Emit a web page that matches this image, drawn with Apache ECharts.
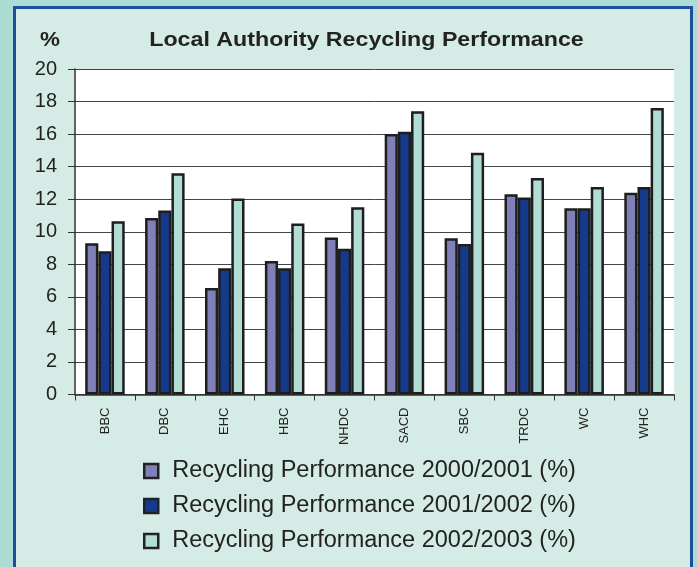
<!DOCTYPE html>
<html>
<head>
<meta charset="utf-8">
<script src="https://cdn.jsdelivr.net/npm/echarts@6/dist/echarts.min.js"></script>
<style>
html,body{margin:0;padding:0;background:#acdcd4;}
#c{width:697px;height:567px;}
</style>
</head>
<body>
<div id="c"></div>
<script>
const categories = ['BBC','DBC','EHC','HBC','NHDC','SACD','SBC','TRDC','WC','WHC'];
const seriesNames = ['Recycling Performance 2000/2001 (%)','Recycling Performance 2001/2002 (%)','Recycling Performance 2002/2003 (%)'];
const perf2000 = [9.3, 10.85, 6.55, 8.2, 9.65, 16.0, 9.6, 12.3, 11.45, 12.4];
const perf2001 = [8.8, 11.3, 7.75, 7.75, 8.95, 16.15, 9.25, 12.1, 11.45, 12.75];
const perf2002 = [10.65, 13.6, 12.05, 10.5, 11.5, 17.4, 14.85, 13.3, 12.75, 17.6];
const yTicks = {min: 0, max: 20, interval: 2};
const colors = ['#7f80b8', '#153a8b', '#b2ddd4'];
const titleText = 'Local Authority Recycling Performance';
const unitText = '%';
const FONT = 'Liberation Sans, Arial, sans-serif';

const chart = echarts.init(document.getElementById('c'), null, {renderer: 'canvas'});
const mk = (name, data, color) => ({
  name, type: 'bar', data,
  barGap: '0%', barCategoryGap: '34%',
  itemStyle: {color, borderColor: '#1e1e1e', borderWidth: 2.5},
  emphasis: {disabled: true}
});
chart.setOption({
  animation: false,
  backgroundColor: '#acdcd4',
  graphic: [{
    type: 'rect', z: -10, silent: true,
    shape: {x: 14.5, y: 7.5, width: 677, height: 600},
    style: {fill: '#d5ebe5', stroke: '#1d4f9e', lineWidth: 3}
  }, {
    type: 'text', x: 366.5, y: 40, scaleX: 1.16, silent: true,
    style: {text: titleText, x: 0, y: 0, textAlign: 'center', textVerticalAlign: 'middle',
      font: 'bold 20px ' + FONT, fill: '#222'}
  }, {
    type: 'text', x: 50, y: 40, scaleX: 1.12, silent: true,
    style: {text: unitText, x: 0, y: 0, textAlign: 'center', textVerticalAlign: 'middle',
      font: 'bold 20px ' + FONT, fill: '#222'}
  }],
  legend: {
    orient: 'vertical', left: 138, top: 454, icon: 'rect',
    itemWidth: 14, itemHeight: 14, itemGap: 11,
    itemStyle: {borderColor: '#222', borderWidth: 2.5},
    textStyle: {fontFamily: FONT, fontSize: 23.5, color: '#222', padding: [0,0,0,9]},
    data: seriesNames
  },
  grid: {left: 75, right: 23, top: 69, bottom: 172.5, show: true, backgroundColor: '#ffffff', borderWidth: 0},
  xAxis: {
    type: 'category', data: categories,
    axisLine: {lineStyle: {color: '#333', width: 1.5}},
    axisTick: {show: true, alignWithLabel: false, length: 6, lineStyle: {color: '#333'}},
    axisLabel: {rotate: 90, fontSize: 13, fontFamily: FONT, color: '#222', margin: 13, interval: 0}
  },
  yAxis: {
    type: 'value', min: yTicks.min, max: yTicks.max, interval: yTicks.interval,
    axisLine: {show: true, lineStyle: {color: '#333', width: 1.5}},
    axisTick: {show: true, length: 7, lineStyle: {color: '#333'}},
    axisLabel: {fontSize: 20, fontFamily: FONT, color: '#222', margin: 18},
    splitLine: {lineStyle: {color: '#444', width: 1}}
  },
  series: [mk(seriesNames[0], perf2000, colors[0]), mk(seriesNames[1], perf2001, colors[1]), mk(seriesNames[2], perf2002, colors[2])]
});
</script>
</body>
</html>
